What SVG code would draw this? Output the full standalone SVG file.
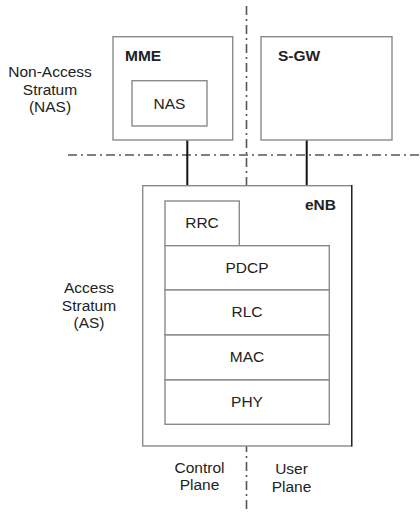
<svg xmlns="http://www.w3.org/2000/svg" width="420" height="513" viewBox="0 0 420 513">
  <style>
    text { font-family: "Liberation Sans", Arial, sans-serif; font-size: 15.5px; fill: #222; }
    .c { text-anchor: middle; }
    .b { font-weight: bold; }
    .box { fill: #fff; stroke: #8a8a8a; stroke-width: 1.4; }
    .sep { fill: none; stroke: #555; stroke-width: 1.6; stroke-dasharray: 9 4 2 4; }
    .link { fill: none; stroke: #111; stroke-width: 2; }
  </style>
  <rect width="420" height="513" fill="#fff"/>

  <!-- plane / stratum separators -->
  <g id="separators">
    <line class="sep" x1="246.5" y1="6" x2="246.5" y2="513"/>
    <line class="sep" x1="68" y1="155" x2="420" y2="155"/>
  </g>

  <!-- side labels -->
  <g id="labels">
    <text class="c" x="50" y="77">Non-Access</text>
    <text class="c" x="50" y="95">Stratum</text>
    <text class="c" x="50" y="112">(NAS)</text>
    <text class="c" x="89" y="293">Access</text>
    <text class="c" x="89" y="311">Stratum</text>
    <text class="c" x="89" y="328">(AS)</text>
    <text class="c" x="199.5" y="472.5">Control</text>
    <text class="c" x="199.5" y="490">Plane</text>
    <text class="c" x="291.5" y="474">User</text>
    <text class="c" x="291.5" y="491.5">Plane</text>
  </g>

  <g id="connectors">
    <line class="link" x1="187.3" y1="140" x2="187.3" y2="186"/>
    <line class="link" x1="306.7" y1="140" x2="306.7" y2="186"/>
  </g>

  <g id="mme">
    <rect class="box" x="113" y="36.7" width="119.7" height="103.3"/>
    <text class="b" x="125" y="61">MME</text>
  </g>
  <g id="nas">
    <rect class="box" x="132" y="80.7" width="75" height="45.3"/>
    <text class="c" x="169.5" y="108.5">NAS</text>
  </g>

  <g id="sgw">
    <rect class="box" x="261" y="36.7" width="131" height="103.3"/>
    <text class="b" x="278" y="61">S-GW</text>
  </g>

  <g id="enb">
    <rect class="box" x="142.7" y="185.7" width="209" height="260.3"/>
    <line x1="351.7" y1="185" x2="351.7" y2="446.5" stroke="#222" stroke-width="1.4"/>
    <text class="b" x="336" y="209.5" text-anchor="end">eNB</text>
  </g>

  <g id="rrc">
    <rect class="box" x="165" y="201" width="74.3" height="44.7"/>
    <text class="c" x="202" y="228">RRC</text>
  </g>
  <g id="pdcp">
    <rect class="box" x="165" y="245.7" width="164.3" height="44.3"/>
    <text class="c" x="247" y="272.5">PDCP</text>
  </g>
  <g id="rlc">
    <rect class="box" x="165" y="290" width="164.3" height="45"/>
    <text class="c" x="247" y="317">RLC</text>
  </g>
  <g id="mac">
    <rect class="box" x="165" y="335" width="164.3" height="45"/>
    <text class="c" x="247" y="362">MAC</text>
  </g>
  <g id="phy">
    <rect class="box" x="165" y="380" width="164.3" height="44.3"/>
    <text class="c" x="247" y="407">PHY</text>
  </g>
</svg>
